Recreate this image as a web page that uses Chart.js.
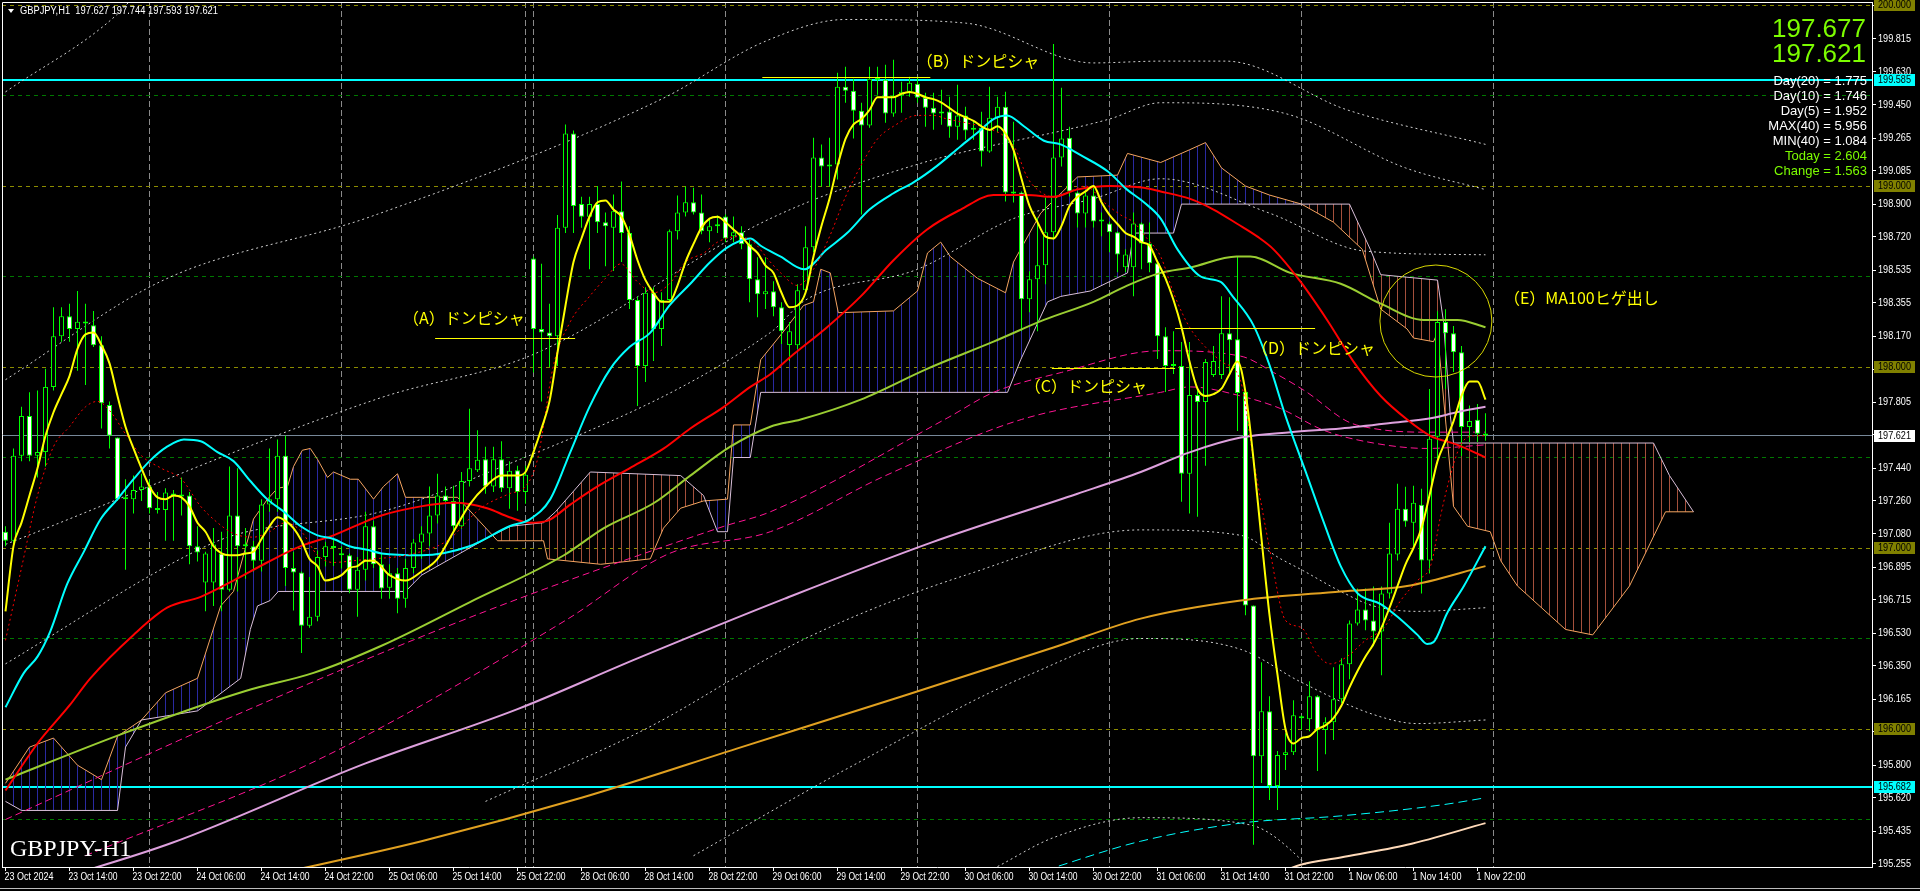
<!DOCTYPE html>
<html>
<head>
<meta charset="utf-8">
<title>GBPJPY,H1</title>
<script src="https://cdn.jsdelivr.net/npm/chart.js@4.4.1/dist/chart.umd.min.js"></script>
<style>
  html, body { margin: 0; padding: 0; background: #000; overflow: hidden; }
  canvas { display: block; }
</style>
</head>
<body>
<canvas id="chart" width="1920" height="891"></canvas>
<script>
// ---- price data (H1 bars, 23 Oct 06:00 .. 1 Nov 23:00) ----
const candleOpen = [
  197.09,197.04,197.51,197.73,197.51,197.53,197.89,198.17,198.28,198.21,
  198.25,198.23,198.12,197.79,197.61,197.27,197.27,197.32,197.34,197.22,
  197.21,197.30,197.29,197.29,197.01,196.81,196.81,196.97,196.77,197.18,
  197.01,197.01,196.93,197.24,197.27,197.51,196.89,196.865,196.57,196.62,
  196.95,197.01,196.97,196.96,196.77,196.88,197.12,196.91,196.78,196.86,
  196.72,196.89,197.03,197.08,197.18,197.29,197.26,197.12,197.37,197.43,
  197.49,197.34,197.49,197.33,197.43,197.31,198.60,198.21,198.19,198.17,
  198.77,199.29,198.90,198.83,198.90,198.80,198.77,198.86,198.74,198.37,
  198.005,198.41,198.21,198.37,198.75,198.854,198.91,198.854,198.75,198.777,
  198.832,198.722,198.744,198.678,198.485,198.402,198.419,198.33,198.121,198.12,
  198.424,198.661,199.157,199.108,199.119,199.548,199.526,199.416,199.334,199.587,
  199.587,199.40,199.499,199.521,199.565,199.488,199.433,199.411,199.411,199.328,
  199.389,199.322,199.322,199.19,199.377,199.438,198.959,198.964,198.374,198.485,
  198.562,198.744,199.157,199.267,198.964,198.848,198.948,198.804,198.793,198.744,
  198.551,198.551,198.793,198.683,198.573,198.17,198.005,198.005,197.41,197.845,
  197.807,197.956,197.956,198.187,198.154,197.862,196.683,195.85,196.098,195.685,
  195.856,195.872,196.06,196.054,196.181,195.994,196.038,196.165,196.358,196.583,
  196.66,196.60,196.539,196.749,196.964,197.217,197.14,197.239,196.931,197.614,
  198.248,198.187,198.082,197.669,197.708,197.627
];
const candleHigh = [
  197.12,197.55,197.78,197.86,197.87,197.99,198.33,198.33,198.35,198.42,
  198.35,198.31,198.17,197.81,197.61,197.38,197.40,197.41,197.38,197.31,
  197.33,197.32,197.39,197.31,197.12,196.98,197.11,197.09,197.45,197.44,
  197.11,197.04,197.27,197.55,197.60,197.62,196.98,196.87,196.84,196.986,
  197.035,197.05,197.01,196.97,196.95,197.20,197.15,196.97,196.91,196.89,
  196.94,197.05,197.12,197.34,197.41,197.34,197.344,197.42,197.77,197.65,
  197.56,197.56,197.59,197.48,197.454,197.454,198.61,198.57,198.35,198.84,
  199.34,199.306,198.94,198.94,199.00,198.854,198.953,199.025,198.777,198.39,
  198.44,198.44,198.413,198.76,198.948,198.997,198.99,198.953,198.815,198.837,
  198.843,198.832,198.777,198.705,198.606,198.606,198.474,198.358,198.248,198.457,
  198.777,199.267,199.229,199.267,199.626,199.659,199.592,199.46,199.659,199.659,
  199.67,199.697,199.576,199.603,199.603,199.515,199.515,199.532,199.493,199.559,
  199.438,199.355,199.41,199.548,199.493,199.521,199.355,198.97,198.529,198.826,
  198.937,199.785,199.543,199.328,198.97,198.975,198.997,198.854,198.804,198.749,
  198.65,198.854,198.799,198.799,198.578,198.22,198.198,198.138,198.138,197.89,
  198.044,198.116,198.391,198.386,198.611,197.862,196.683,196.369,196.181,195.878,
  195.977,196.159,196.076,196.264,196.187,196.065,196.341,196.391,196.60,196.776,
  196.776,196.787,196.787,197.14,197.355,197.338,197.344,197.327,197.878,198.308,
  198.319,198.226,198.116,197.787,197.796,197.744
];
const candleLow = [
  197.01,197.01,197.48,197.48,197.39,197.45,197.87,198.14,198.14,197.98,
  197.90,198.11,197.66,197.55,197.26,196.88,197.19,197.26,197.19,197.19,
  197.04,197.04,197.18,196.91,196.925,196.65,196.68,196.65,196.76,196.76,
  196.83,196.87,196.87,197.20,197.20,196.79,196.655,196.42,196.56,196.595,
  196.898,196.90,196.887,196.75,196.62,196.82,196.89,196.72,196.72,196.64,
  196.67,196.86,196.94,197.01,197.135,197.256,197.09,197.107,197.34,197.42,
  197.30,197.31,197.31,197.217,197.206,197.245,197.97,197.81,198.00,198.005,
  198.74,198.74,198.77,198.54,198.74,198.556,198.53,198.58,198.32,197.785,
  197.917,198.033,198.116,198.36,198.705,198.832,198.843,198.733,198.689,198.74,
  198.689,198.689,198.65,198.358,198.275,198.32,198.281,198.127,198.033,198.10,
  198.413,198.634,198.997,198.997,199.036,199.46,199.262,198.843,199.322,199.504,
  199.35,199.383,199.405,199.493,199.46,199.328,199.311,199.339,199.267,199.256,
  199.256,199.256,199.108,199.184,199.295,198.915,198.909,198.198,198.303,198.198,
  198.457,198.705,199.108,198.942,198.771,198.771,198.771,198.722,198.634,198.523,
  198.523,198.391,198.54,198.523,198.044,197.862,197.961,197.256,197.19,197.173,
  197.454,197.945,197.934,197.956,197.647,196.628,195.36,195.702,195.608,195.553,
  195.773,195.856,195.994,195.988,195.768,195.861,195.939,196.143,196.275,196.572,
  196.545,196.457,196.297,196.721,196.931,197.118,197.008,196.749,196.859,197.465,
  197.878,197.972,197.509,197.586,197.586,197.593
];
const candleClose = [
  197.04,197.51,197.73,197.51,197.53,197.89,198.17,198.28,198.21,198.25,
  198.24,198.12,197.80,197.62,197.27,197.28,197.32,197.34,197.22,197.21,
  197.306,197.29,197.285,197.01,196.975,196.97,197.02,196.77,197.18,197.01,
  197.02,196.93,197.24,197.27,197.51,196.89,196.865,196.57,196.62,196.95,
  197.01,197.00,196.96,196.77,196.88,197.12,196.91,196.776,196.86,196.72,
  196.89,197.03,197.08,197.18,197.29,197.26,197.12,197.37,197.44,197.487,
  197.34,197.49,197.33,197.427,197.31,197.405,198.21,198.19,198.17,198.77,
  199.29,198.89,198.83,198.90,198.80,198.777,198.86,198.74,198.37,198.005,
  198.41,198.21,198.37,198.75,198.854,198.91,198.854,198.75,198.777,198.788,
  198.71,198.744,198.678,198.485,198.402,198.419,198.33,198.198,198.198,198.424,
  198.661,199.157,199.108,199.119,199.548,199.526,199.416,199.334,199.592,199.592,
  199.40,199.499,199.521,199.57,199.488,199.433,199.40,199.40,199.328,199.389,
  199.306,199.311,199.19,199.377,199.438,198.964,198.964,198.374,198.485,198.562,
  198.744,199.157,199.262,198.97,198.848,198.948,198.804,198.81,198.744,198.622,
  198.622,198.793,198.683,198.573,198.17,198.005,198.011,197.41,197.845,197.807,
  198.027,198.033,198.187,198.148,197.856,196.683,195.85,196.098,195.685,195.856,
  195.872,196.076,196.065,196.181,195.994,196.038,196.165,196.358,196.583,196.66,
  196.60,196.539,196.749,196.969,197.217,197.146,197.25,196.931,197.603,198.248,
  198.187,198.082,197.669,197.702,197.631,197.621
];
const askPrice = 197.677;

// ---- indicator lines, [bar, price] ----
const maYellow = [
  [0,196.65],[1,197.01],[2,197.14],[3,197.29],[4,197.44],[5,197.62],[6,197.75],[7,197.85],[8,197.95],[9,198.10],
  [10,198.18],[11,198.19],[12,198.12],[13,198.02],[14,197.84],[15,197.67],[16,197.55],[17,197.44],[18,197.34],[19,197.28],
  [20,197.27],[21,197.29],[22,197.28],[23,197.23],[24,197.14],[25,197.09],[26,197.01],[27,196.97],[28,196.96],[29,196.96],
  [30,196.97],[31,196.98],[32,197.05],[33,197.12],[34,197.17],[35,197.15],[36,197.11],[37,197.04],[38,196.94],[39,196.90],
  [40,196.82],[41,196.83],[42,196.85],[43,196.89],[44,196.90],[45,196.93],[46,196.93],[48,196.85],[50,196.82],[52,196.87],
  [54,196.94],[56,197.09],[58,197.24],[60,197.34],[62,197.40],[64,197.40],[65,197.42],[66,197.53],[67,197.66],[68,197.81],
  [69,198.08],[70,198.34],[71,198.58],[72,198.71],[73,198.83],[74,198.91],[75,198.92],[76,198.87],[77,198.83],[78,198.73],
  [79,198.59],[80,198.48],[81,198.41],[82,198.36],[83,198.36],[84,198.45],[85,198.58],[86,198.68],[87,198.77],[88,198.82],
  [89,198.83],[90,198.80],[91,198.76],[92,198.72],[93,198.67],[94,198.63],[95,198.56],[96,198.52],[97,198.41],[98,198.33],
  [99,198.34],[100,198.41],[101,198.61],[102,198.78],[103,198.93],[104,199.11],[105,199.26],[106,199.34],[107,199.37],[108,199.42],
  [109,199.49],[110,199.49],[111,199.49],[112,199.51],[113,199.52],[114,199.51],[115,199.49],[116,199.48],[117,199.46],[118,199.43],
  [119,199.40],[120,199.38],[121,199.36],[122,199.33],[123,199.31],[124,199.33],[125,199.29],[126,199.20],[127,199.04],[128,198.89],
  [129,198.80],[130,198.72],[131,198.71],[132,198.78],[133,198.89],[134,198.94],[135,198.97],[136,199.00],[137,198.91],[138,198.84],
  [139,198.79],[140,198.74],[141,198.72],[142,198.69],[143,198.67],[144,198.58],[145,198.49],[146,198.37],[147,198.22],[148,198.03],
  [149,197.88],[150,197.84],[151,197.85],[152,197.88],[153,197.96],[154,198.03],[155,197.86],[156,197.49],[157,197.05],[158,196.63],
  [159,196.30],[160,196.00],[161,195.92],[162,195.95],[163,195.96],[164,196.00],[165,196.02],[166,196.06],[167,196.13],[168,196.23],
  [169,196.32],[170,196.40],[171,196.47],[172,196.56],[173,196.67],[174,196.79],[175,196.91],[176,197.00],[177,197.11],[178,197.29],
  [179,197.48],[180,197.59],[181,197.70],[182,197.84],[183,197.92],[184,197.92],[185,197.82]
];
const maRedDotted = [
  [0,196.49],[2,196.89],[4,197.29],[6,197.56],[8,197.67],[10,197.78],[11.5,197.81],[13,197.76],[15,197.63],[17,197.51],
  [19.5,197.44],[22,197.38],[24.4,197.23],[26.5,197.14],[28.5,197.08],[31,197.06],[33,197.09],[35,197.14],[37,197.09],[39,196.96],
  [41,196.92],[43.5,196.93],[46,196.94],[50,196.96],[55.2,197.04],[59.4,197.22],[63,197.30],[65,197.34],[66.5,197.49],[68.5,198.01],
  [70.6,198.25],[73,198.39],[75,198.49],[76.9,198.57],[79,198.47],[81,198.41],[83,198.46],[85,198.58],[87.3,198.63],[89,198.69],
  [91.4,198.72],[93.5,198.69],[95.4,198.59],[96.9,198.52],[99,198.45],[101,198.54],[103,198.72],[105,198.94],[106.9,199.11],[109,199.26],
  [111,199.33],[114,199.39],[116,199.39],[117.7,199.37],[120,199.35],[122.7,199.32],[125,199.27],[126.3,199.20],[127.7,199.05],[129,198.98],
  [131,198.94],[133,198.97],[135,199.00],[137.3,198.91],[139.4,198.84],[141,198.80],[142.7,198.71],[144.4,198.61],[146,198.41],[148,198.22],
  [150,198.11],[152,198.03],[154.4,197.92],[156,197.49],[158,197.00],[160,196.60],[162,196.56],[164,196.41],[165.6,196.36],[167.7,196.40],
  [170,196.49],[172.3,196.56],[174.4,196.71],[176.5,196.82],[178.2,196.91],[179.4,197.18],[180.6,197.40],[181.9,197.57],[183.5,197.62],[185,197.62]
];
const maCyan = [
  [0,196.12],[2.3,196.31],[4,196.40],[5.6,196.54],[7.7,196.80],[9.8,196.98],[11.9,197.16],[14,197.27],[16,197.38],[18,197.48],
  [20.2,197.56],[22.3,197.60],[24.4,197.59],[26.5,197.53],[28.5,197.48],[30.6,197.37],[32.7,197.27],[34.8,197.20],[36.9,197.12],[39,197.07],
  [41,197.05],[43,197.01],[45.2,196.99],[47,196.97],[52,196.96],[58,197.01],[63,197.12],[65.6,197.16],[68.1,197.27],[70.6,197.53],
  [73,197.78],[75.6,197.99],[78,198.11],[80.6,198.19],[83,198.34],[85.6,198.46],[88.1,198.58],[90.2,198.66],[93.1,198.71],[94.4,198.67],
  [96.9,198.61],[99.8,198.54],[102.7,198.65],[105.2,198.74],[108,198.87],[111,198.96],[113.5,199.02],[116.4,199.11],[119.4,199.22],[121.9,199.31],
  [123.5,199.37],[125.2,199.39],[127.3,199.33],[129.8,199.25],[131.9,199.23],[134.4,199.17],[137.8,199.08],[140.2,198.98],[142.3,198.91],[144.4,198.82],
  [146.5,198.65],[149.4,198.50],[151.9,198.47],[153.4,198.39],[156,198.23],[158,198.01],[160,197.73],[162.7,197.40],[164.8,197.14],[166.9,196.90],
  [169,196.75],[171.9,196.69],[174,196.62],[176.5,196.52],[177.7,196.47],[178.5,196.48],[180.2,196.64],[182.3,196.79],[185,197.01]
];
const maRed = [
  [0,195.66],[4,195.92],[8,196.13],[10.6,196.28],[16,196.52],[20.2,196.67],[24.4,196.73],[28.5,196.82],[32.7,196.92],[36.9,197.01],
  [41,197.07],[45.2,197.15],[47,197.18],[51.9,197.23],[56,197.25],[60.2,197.22],[63,197.17],[65.6,197.14],[67.7,197.15],[70.6,197.24],
  [74,197.34],[78,197.44],[82.3,197.55],[85.6,197.66],[89.8,197.78],[93.1,197.89],[95.6,197.96],[98.5,198.07],[102.7,198.22],[106.9,198.39],
  [111,198.59],[115.2,198.76],[119.4,198.87],[123.5,198.95],[127.7,198.95],[131,198.94],[133.9,198.98],[138.1,199.00],[142.3,198.99],[144.4,198.97],
  [148,198.93],[151,198.87],[154,198.79],[156.5,198.72],[158.5,198.65],[161.9,198.47],[165.2,198.26],[168.5,198.03],[171.9,197.84],[175.2,197.71],
  [178.1,197.62],[181.5,197.57],[185,197.50]
];
const maGreen = [
  [0,195.72],[15,195.98],[30,196.21],[38.5,196.31],[47,196.46],[58,196.70],[69.8,196.96],[74.8,197.11],[81.1,197.25],[85.6,197.40],
  [90.6,197.56],[95.6,197.67],[99.4,197.71],[106.9,197.82],[115.2,197.99],[123.5,198.14],[129.8,198.26],[136,198.36],[140.2,198.45],[144.4,198.52],
  [148.1,198.55],[153.9,198.61],[155.6,198.61],[160.6,198.52],[166.9,198.46],[171.9,198.35],[177.3,198.26],[181.5,198.26],[185,198.22]
];
const maPlum = [
  [5,195.15],[20.75,195.37],[45,195.81],[64,196.11],[79,196.39],[97.4,196.72],[115.7,197.03],[134,197.30],[141.9,197.42],[148.1,197.53],
  [154.4,197.61],[160.6,197.64],[166.9,197.66],[173.1,197.69],[178.5,197.72],[181.4,197.75],[185,197.78]
];
const maOrange = [
  [34,195.20],[52,195.38],[72,195.62],[92,195.90],[112,196.18],[131,196.45],[141.9,196.61],[154.4,196.71],[166.9,196.76],[175.2,196.79],[185,196.90]
];
const maPeach = [[160,195.22],[161.9,195.25],[166.9,195.29],[175.2,195.36],[185,195.48]];
const maCyanDashed = [[130,195.22],[141.9,195.38],[154.4,195.48],[166.9,195.52],[179.4,195.58],[185,195.62]];
const pinkDashedUpper = [
  [0,195.50],[30,196.10],[60,196.65],[89.8,197.12],[95.6,197.20],[117.8,197.72],[123.5,197.86],[132,197.97],[144.4,198.09],[154.4,198.06],
  [158.5,197.97],[162.7,197.86],[167.7,197.70],[171,197.66],[177.3,197.64],[185,197.64]
];
const pinkDashedLower = [
  [10,195.30],[40,195.85],[70,196.60],[83,196.97],[95.6,197.09],[110,197.40],[127,197.71],[144.4,197.86],[148.1,197.89],[154.4,197.84],
  [159.4,197.77],[164.8,197.65],[171,197.58],[177.7,197.55],[185,197.57]
];
const bandUpper1 = [[0,199.52],[14,199.95],[17,200.10]];
const bandUpper2 = [
  [0,197.93],[19.75,198.48],[45.6,198.83],[82,199.48],[95,199.80],[105,199.92],[120,199.90],[136,199.68],[144.4,199.69],[152.5,199.69],
  [167.75,199.42],[185,199.23]
];
const bandUpper3 = [
  [0,197.02],[46.9,197.83],[66,198.07],[95.6,198.82],[114,199.12],[138,199.37],[144.4,199.46],[160,199.40],[175,199.10],[185,198.98]
];
const bandMid = [
  [0,196.36],[22.75,196.96],[28.5,197.07],[46.9,197.20],[57.75,197.37],[95.6,198.19],[100,198.37],[114,198.54],[126,198.82],[136,198.93],
  [144.4,199.04],[158,198.85],[170,198.64],[185,198.62]
];
const bandLower1 = [
  [60,195.60],[80,196.00],[100,196.50],[120,196.85],[141.9,197.10],[154.4,197.07],[159.4,196.94],[162,196.88],[166.9,196.76],[171,196.68],
  [176.5,196.65],[185,196.67]
];
const bandLower2 = [
  [86,195.30],[106,195.80],[128,196.30],[141.9,196.50],[154.4,196.44],[161.9,196.26],[171,196.08],[176.5,196.03],[185,196.05]
];
const bandLower3 = [[124,195.24],[131,195.40],[141.9,195.51],[155.6,195.47],[161.9,195.28],[163,195.22]];

// ichimoku spans (shifted 26 bars ahead)
const spanA = [
  [0,195.70],[3,195.90],[6,195.95],[9,195.80],[12,195.72],[14,195.96],[17,196.05],[20,196.20],[24,196.28],[26.9,196.68],
  [28.5,196.76],[31,197.16],[32.75,197.27],[34,197.33],[35.25,197.34],[36,197.45],[37.1,197.54],[38.1,197.55],[39,197.49],[40.25,197.39],
  [41,197.42],[43.1,197.38],[44.1,197.38],[46,197.27],[47.25,197.34],[49,197.41],[50,197.28],[56.5,197.28],[57.75,197.22],[61.5,197.04],
  [67.25,197.04],[67.75,196.94],[74.4,196.91],[80.6,196.94],[82.25,197.11],[84.4,197.22],[87.25,197.26],[90.25,197.27],[91,197.68],[93.1,197.68],
  [94.4,198.04],[97.5,198.21],[99.75,198.34],[101,198.36],[101.9,198.54],[103.1,198.52],[104.1,198.30],[111,198.31],[114,198.42],[115.25,198.63],
  [116.9,198.69],[118.1,198.61],[121.5,198.49],[125,198.41],[126,198.58],[129.4,198.85],[134,199.05],[139,199.06],[140.25,199.18],[144.4,199.13],
  [148,199.20],[150,199.24],[152,199.10],[155,199.00],[158,198.95],[162,198.90],[166,198.80],[169.6,198.65],[171.9,198.32],[175.2,198.21],
  [176,198.16],[178.5,198.14],[179,198.19],[181,197.23],[182.75,197.12],[185.6,197.09],[186.9,196.93],[189,196.79],[195,196.55],[198.4,196.52],
  [203,196.79],[207.5,197.20],[211,197.20]
];
const spanB = [
  [0,195.60],[2,195.55],[14,195.55],[15,195.90],[17,196.05],[24,196.10],[29.4,196.28],[30.6,196.55],[31.5,196.68],[33.1,196.71],
  [34.1,196.76],[50,196.76],[52,196.85],[56,196.95],[60,197.05],[63.1,197.12],[67.25,197.14],[68.75,197.20],[73.1,197.42],[84.4,197.40],
  [87.25,197.29],[89,197.09],[90.25,197.09],[91,197.50],[93.1,197.50],[94.4,197.86],[125.25,197.86],[126.9,198.04],[130.25,198.36],[131.9,198.39],
  [135.6,198.42],[140.25,198.52],[141,198.74],[146,198.74],[147,198.90],[168,198.90],[170.6,198.65],[171.9,198.51],[179,198.48],[179.75,198.25],
  [180.6,197.73],[181,197.58],[206,197.58],[208,197.40],[211,197.20]
];

// ---- axes ----
const timeTickBars = [0,8,16,24,32,40,48,56,64,72,80,88,96,104,112,120,128,136,144,152,160,168,176,184];
const timeTickLabels = [
  '23 Oct 2024','23 Oct 14:00','23 Oct 22:00','24 Oct 06:00','24 Oct 14:00','24 Oct 22:00','25 Oct 06:00','25 Oct 14:00',
  '25 Oct 22:00','28 Oct 06:00','28 Oct 14:00','28 Oct 22:00','29 Oct 06:00','29 Oct 14:00','29 Oct 22:00','30 Oct 06:00',
  '30 Oct 14:00','30 Oct 22:00','31 Oct 06:00','31 Oct 14:00','31 Oct 22:00','1 Nov 06:00','1 Nov 14:00','1 Nov 22:00'
];
const priceTicks = [
  200.000,199.815,199.630,199.450,199.265,199.085,198.900,198.720,198.535,198.355,198.170,197.985,197.805,197.625,
  197.440,197.260,197.080,196.895,196.715,196.530,196.350,196.165,195.985,195.800,195.620,195.435,195.255
];
const roundLevels = [200, 199, 198, 197, 196];
const halfLevels = [199.5, 198.5, 197.5, 196.5, 195.5];
const markedLevels = [199.585, 195.682];
const daySeparators = [18, 42, 65, 66, 90, 114, 138, 162, 186];

const infoLabels = ['Day(20)', 'Day(10)', 'Day(5)', 'MAX(40)', 'MIN(40)', 'Today', 'Change'];
const infoValues = [1.775, 1.746, 1.952, 5.956, 1.084, 2.604, 1.563];

const notes = [
  { text: '（A）ドンピシャ', bar: 49.7, price: 198.271, line: [53.7, 71.2, 198.160] },
  { text: '（B）ドンピシャ', bar: 113.9, price: 199.691, line: [94.6, 115.6, 199.602] },
  { text: '（C）ドンピシャ', bar: 127.4, price: 197.895, line: [130.8, 146.2, 197.994] },
  { text: '（D）ドンピシャ', bar: 155.8, price: 198.105, line: [146.2, 163.7, 198.210] },
  { text: '（E）MA100ヒゲ出し', bar: 187.3, price: 198.381, line: null }
];
const noteCircle = { bar: 178.8, price: 198.254, radius: 56 };

// ---- helpers ----
const pts = arr => arr.map(([x, y]) => ({ x, y }));
const last = candleClose.length - 1;

function hatch(color) {
  const c = document.createElement('canvas');
  c.width = 8; c.height = 1;
  const g = c.getContext('2d');
  g.fillStyle = color;
  g.fillRect(5, 0, 1, 1);
  return g.createPattern(c, 'repeat');
}

function line(data, color, width, order, extra) {
  return Object.assign({
    type: 'line', data: pts(data), borderColor: color, borderWidth: width,
    pointRadius: 0, fill: false, cubicInterpolationMode: 'monotone', order: order
  }, extra || {});
}

const crisp = v => Math.round(v - 0.5) + 0.5;

const chartDecor = {
  id: 'chartDecor',
  beforeDraw(chart) {
    const ctx = chart.ctx;
    ctx.save();
    ctx.fillStyle = '#000';
    ctx.fillRect(0, 0, chart.width, chart.height);
    ctx.restore();
  },
  beforeDatasetsDraw(chart) {
    const { ctx, chartArea: a, scales: { x, y } } = chart;
    ctx.save();
    ctx.beginPath();
    ctx.rect(a.left, a.top, a.right - a.left, a.bottom - a.top);
    ctx.clip();
    ctx.lineWidth = 1;

    ctx.setLineDash([6, 3]);
    ctx.strokeStyle = '#8a8a8a';
    daySeparators.forEach(b => {
      const px = x.getPixelForValue(b);
      ctx.beginPath(); ctx.moveTo(px, a.top); ctx.lineTo(px, a.bottom); ctx.stroke();
    });

    ctx.setLineDash([4, 4]);
    ctx.strokeStyle = '#8c8c00';
    roundLevels.forEach(p => {
      const py = crisp(y.getPixelForValue(p));
      ctx.beginPath(); ctx.moveTo(a.left, py); ctx.lineTo(a.right, py); ctx.stroke();
    });
    ctx.strokeStyle = '#007800';
    halfLevels.forEach(p => {
      const py = crisp(y.getPixelForValue(p));
      ctx.beginPath(); ctx.moveTo(a.left, py); ctx.lineTo(a.right, py); ctx.stroke();
    });

    ctx.setLineDash([]);
    ctx.strokeStyle = '#778899';
    let py = crisp(y.getPixelForValue(candleClose[last]));
    ctx.beginPath(); ctx.moveTo(a.left, py); ctx.lineTo(a.right, py); ctx.stroke();

    ctx.strokeStyle = '#00ffff';
    ctx.lineWidth = 2;
    markedLevels.forEach(p => {
      const yy = Math.round(y.getPixelForValue(p));
      ctx.beginPath(); ctx.moveTo(a.left, yy); ctx.lineTo(a.right, yy); ctx.stroke();
    });
    ctx.restore();
  },
  afterDatasetsDraw(chart) {
    const { ctx, chartArea: a, scales: { x, y } } = chart;
    ctx.save();
    ctx.beginPath();
    ctx.rect(a.left, a.top, a.right - a.left, a.bottom - a.top);
    ctx.clip();

    // annotations
    ctx.strokeStyle = '#ffff00';
    ctx.fillStyle = '#ffff00';
    ctx.lineWidth = 1;
    ctx.font = '16px "Noto Sans CJK JP"';
    ctx.textBaseline = 'middle';
    ctx.textAlign = 'left';
    notes.forEach(n => {
      ctx.fillText(n.text, x.getPixelForValue(n.bar), y.getPixelForValue(n.price));
      if (n.line) {
        const ly = crisp(y.getPixelForValue(n.line[2]));
        ctx.beginPath();
        ctx.moveTo(x.getPixelForValue(n.line[0]), ly);
        ctx.lineTo(x.getPixelForValue(n.line[1]), ly);
        ctx.stroke();
      }
    });
    ctx.strokeStyle = '#d8d800';
    ctx.beginPath();
    ctx.arc(x.getPixelForValue(noteCircle.bar), y.getPixelForValue(noteCircle.price), noteCircle.radius, 0, Math.PI * 2);
    ctx.stroke();

    // header
    ctx.fillStyle = '#ffffff';
    ctx.beginPath();
    ctx.moveTo(8, 9); ctx.lineTo(14, 9); ctx.lineTo(11, 13); ctx.closePath(); ctx.fill();
    ctx.font = '10px "Liberation Sans"';
    const head = 'GBPJPY,H1  ' + [candleOpen[last], candleHigh[last], candleLow[last], candleClose[last]].map(v => v.toFixed(3)).join(' ');
    ctx.fillText(head, 20, 11, 198);

    // symbol watermark
    ctx.font = '24px "Liberation Serif"';
    ctx.textBaseline = 'alphabetic';
    ctx.fillText('GBPJPY-H1', 10, 856);

    // prices and stats, top right
    ctx.textAlign = 'right';
    ctx.fillStyle = '#7cfc00';
    ctx.font = '26px "Liberation Sans"';
    ctx.textBaseline = 'middle';
    ctx.fillText(askPrice.toFixed(3), 1866, 30);
    ctx.fillText(candleClose[last].toFixed(3), 1866, 55);
    ctx.font = '13px "Liberation Sans"';
    infoLabels.forEach((lab, k) => {
      ctx.fillStyle = k < 5 ? '#ffffff' : '#7cfc00';
      ctx.fillText(lab + ' = ' + infoValues[k].toFixed(3), 1867, 81 + k * 15);
    });
    ctx.restore();

    // frame
    ctx.save();
    ctx.strokeStyle = '#ffffff';
    ctx.lineWidth = 1;
    ctx.beginPath();
    ctx.moveTo(2.5, a.bottom); ctx.lineTo(2.5, 2.5); ctx.lineTo(a.right, 2.5);
    ctx.stroke();
    ctx.strokeStyle = '#bcbcbc';
    ctx.beginPath(); ctx.moveTo(0, 888.5); ctx.lineTo(1920, 888.5); ctx.stroke();
    ctx.restore();
  },
  afterDraw(chart) {
    const { ctx, chartArea: a, scales: { x, y } } = chart;
    ctx.save();
    ctx.font = '11px "Liberation Sans"';
    ctx.textBaseline = 'middle';
    ctx.textAlign = 'left';
    ctx.fillStyle = '#ffffff';
    priceTicks.forEach(p => {
      ctx.fillText(p.toFixed(3), a.right + 6, y.getPixelForValue(p), 33);
    });
    const box = (p, bg, fg) => {
      const py = Math.round(y.getPixelForValue(p));
      ctx.fillStyle = bg;
      ctx.fillRect(a.right + 2, py - 6, 41, 12);
      ctx.fillStyle = fg;
      ctx.fillText(p.toFixed(3), a.right + 6, py, 33);
    };
    roundLevels.forEach(p => box(p, '#808000', '#000000'));
    markedLevels.forEach(p => box(p, '#00ffff', '#000000'));
    box(candleClose[last], '#ffffff', '#000000');

    ctx.fillStyle = '#ffffff';
    timeTickBars.forEach((b, k) => {
      ctx.fillText(timeTickLabels[k], x.getPixelForValue(b) - 1, a.bottom + 10, 49);
    });
    ctx.restore();
  }
};

const datasets = [
  line(spanA, '#f4a460', 1, 100, {
    cubicInterpolationMode: 'default', tension: 0,
    fill: { target: 1, above: hatch('#2a2aa0'), below: hatch('#a4503c') }
  }),
  line(spanB, '#d8bfd8', 1, 99, { cubicInterpolationMode: 'default', tension: 0 }),
  line(bandUpper1, '#d0d0d0', 1, 90, { borderDash: [2, 3] }),
  line(bandUpper2, '#d0d0d0', 1, 90, { borderDash: [2, 3] }),
  line(bandUpper3, '#d0d0d0', 1, 90, { borderDash: [2, 3] }),
  line(bandMid, '#d0d0d0', 1, 90, { borderDash: [2, 3] }),
  line(bandLower1, '#d0d0d0', 1, 90, { borderDash: [2, 3] }),
  line(bandLower2, '#d0d0d0', 1, 90, { borderDash: [2, 3] }),
  line(bandLower3, '#d0d0d0', 1, 90, { borderDash: [2, 3] }),
  line(pinkDashedUpper, '#ff1493', 1, 85, { borderDash: [7, 4] }),
  line(pinkDashedLower, '#ff1493', 1, 85, { borderDash: [7, 4] }),
  line(maCyanDashed, '#00ffff', 1, 84, { borderDash: [9, 5] }),
  {
    type: 'bar', label: 'wick', order: 60,
    data: candleLow.map((l, i) => ({ x: i, y: [l, candleHigh[i]] })),
    backgroundColor: '#00ff00', borderWidth: 0, barThickness: 1,
    grouped: false, inflateAmount: 0
  },
  {
    type: 'bar', label: 'body', order: 59,
    data: candleOpen.map((o, i) => ({ x: i, y: [o, candleClose[i]] })),
    backgroundColor: candleOpen.map((o, i) => candleClose[i] < o ? '#ffffff' : '#000000'),
    borderColor: '#00ff00', borderWidth: 1, borderSkipped: false,
    barThickness: 5, grouped: false, inflateAmount: 0, minBarLength: 2
  },
  line(maPeach, '#ffdab9', 2, 40),
  line(maOrange, '#e0a020', 2, 39),
  line(maPlum, '#dda0dd', 2, 38),
  line(maGreen, '#9acd32', 2, 37),
  line(maRed, '#ff0000', 2, 36),
  line(maCyan, '#00ffff', 2, 35),
  line(maRedDotted, '#ff0000', 1, 34, { borderDash: [2, 3] }),
  line(maYellow, '#ffff00', 2, 33)
];

new Chart(document.getElementById('chart').getContext('2d'), {
  type: 'bar',
  data: { datasets: datasets },
  options: {
    responsive: false,
    animation: false,
    devicePixelRatio: 1,
    events: [],
    layout: { padding: { left: 2, top: 2, right: 0, bottom: 0 } },
    plugins: { legend: { display: false }, tooltip: { enabled: false } },
    scales: {
      x: {
        type: 'linear', offset: false,
        min: -0.4375, max: 233.3125,
        grid: { drawOnChartArea: false, drawTicks: true, tickLength: 4, color: '#ffffff', offset: false },
        border: { color: '#ffffff' },
        ticks: { display: false },
        afterBuildTicks: s => { s.ticks = timeTickBars.map(v => ({ value: v })); },
        afterFit: s => { s.height = 24; }
      },
      y: {
        position: 'right',
        min: 195.2376, max: 200.0166,
        grid: { drawOnChartArea: false, drawTicks: true, tickLength: 4, color: '#ffffff' },
        border: { color: '#ffffff' },
        ticks: { display: false },
        afterBuildTicks: s => { s.ticks = priceTicks.map(v => ({ value: v })); },
        afterFit: s => { s.width = 48; }
      }
    }
  },
  plugins: [chartDecor]
});
</script>
</body>
</html>
